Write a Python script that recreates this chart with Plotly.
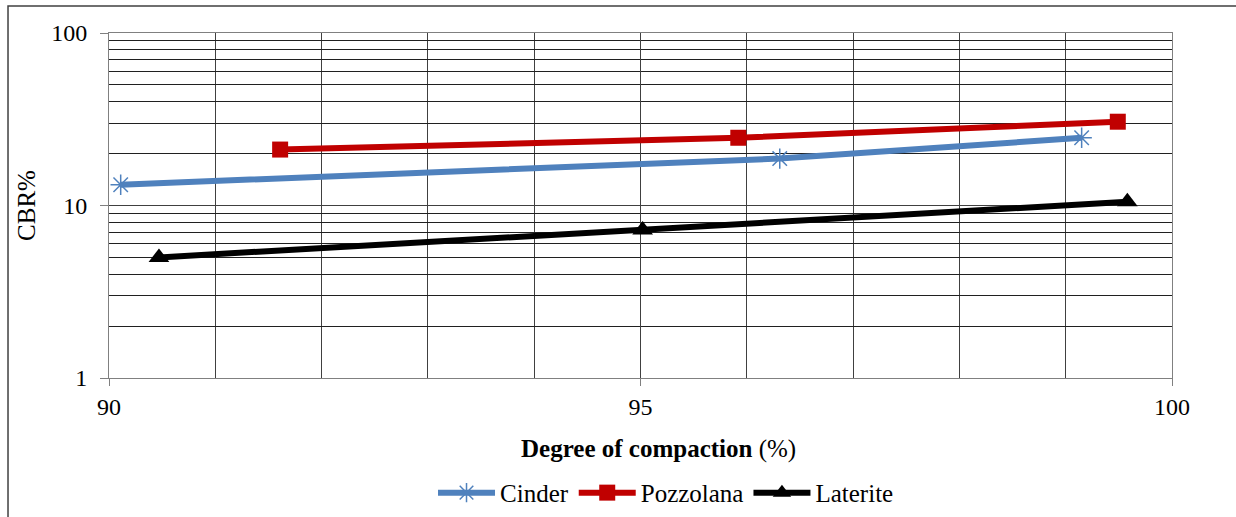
import plotly.graph_objects as go

cinder_x = [90.11, 96.31, 99.15]
cinder_y = [13.2, 18.7, 24.7]
pozz_x = [91.61, 95.92, 99.49]
pozz_y = [21.1, 24.7, 30.6]
lat_x = [90.47, 95.02, 99.58]
lat_y = [5.0, 7.2, 10.5]

FONT = "Liberation Serif, Times New Roman, serif"

fig = go.Figure()
fig.add_trace(go.Scatter(x=cinder_x, y=cinder_y, name="Cinder", mode="lines+markers",
                         line=dict(color="#4F81BD", width=6),
                         marker=dict(symbol="asterisk-open", size=17, color="#4F81BD",
                                     line=dict(color="#4F81BD", width=1.5))))
fig.add_trace(go.Scatter(x=pozz_x, y=pozz_y, name="Pozzolana", mode="lines+markers",
                         line=dict(color="#C00000", width=6),
                         marker=dict(symbol="square", size=16, color="#C00000")))
fig.add_trace(go.Scatter(x=lat_x, y=lat_y, name="Laterite", mode="lines+markers",
                         line=dict(color="#000000", width=6),
                         marker=dict(symbol="triangle-up", size=18, color="#000000")))

fig.update_layout(
    width=1236, height=517,
    margin=dict(l=109, r=64, t=33, b=139, autoexpand=False),
    paper_bgcolor="white", plot_bgcolor="white",
    font=dict(family=FONT, size=25, color="black"),
    showlegend=True,
    legend=dict(orientation="h", x=0.524, xanchor="center", y=-0.333, yanchor="middle",
                font=dict(family=FONT, size=25), itemwidth=57, tracegroupgap=0),
    xaxis=dict(range=[90, 100], dtick=5, tick0=90, automargin=False,
               showgrid=True, gridcolor="#404040", gridwidth=1,
               minor=dict(dtick=1, showgrid=True, gridcolor="#404040", gridwidth=1, ticks=""),
               ticks="outside", ticklen=7, tickcolor="#808080",
               showline=True, linecolor="#808080", mirror=True, zeroline=False,
               tickfont=dict(family=FONT, size=24)),
    yaxis=dict(type="log", range=[0, 2], dtick=1, automargin=False,
               showgrid=True, gridcolor="#404040", gridwidth=1,
               minor=dict(dtick="D1", showgrid=True, gridcolor="#202020", gridwidth=1, ticks=""),
               ticks="outside", ticklen=8, tickcolor="#808080", ticklabelstandoff=8,
               showline=True, linecolor="#808080", mirror=True,
               tickfont=dict(family=FONT, size=24),
               title=dict(text="CBR%", standoff=8, font=dict(family=FONT, size=25))),
    annotations=[dict(text="<b>Degree of compaction</b> (%)", xref="paper", yref="paper",
                      x=0.517, y=-0.206, xanchor="center", yanchor="middle",
                      showarrow=False, font=dict(family=FONT, size=25))],
    shapes=[dict(type="rect", xref="paper", yref="paper",
                 x0=-0.095, x1=1.2, y0=-0.6, y1=1.078,
                 line=dict(color="#404040", width=1.5), fillcolor="rgba(0,0,0,0)",
                 layer="below")],
)

fig.write_html("out.html", config={"displayModeBar": False},
               post_script="document.body.style.margin='0';")
